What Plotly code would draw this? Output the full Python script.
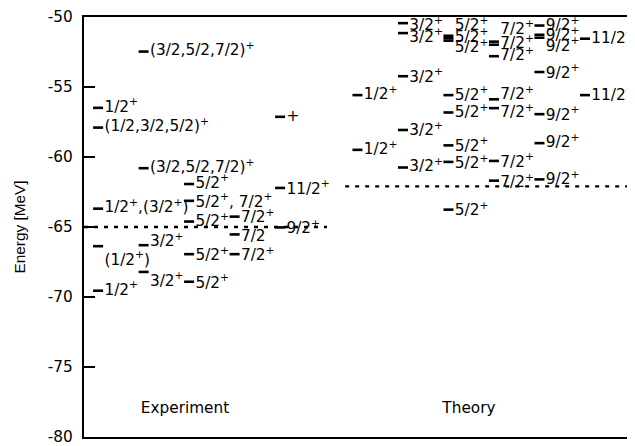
import plotly.graph_objects as go

# ---------------- data ----------------
# Experiment levels: column index, level energy (MeV), label energy (MeV), label
exp_col = [1, 0, 0, 4, 1, 2, 4, 2, 0, 2, 3, 4, 3, 0, 1, 2, 3, 1, 2, 0]
exp_E = [-52.47, -56.49, -57.90, -57.13, -60.80, -61.93, -62.21, -63.13, -63.69, -64.61,
         -64.26, -65.03, -65.53, -66.37, -66.30, -66.94, -66.94, -68.21, -68.91, -69.55]
exp_labelE = [-52.47, -56.49, -57.90, -57.13, -60.80, -61.93, -62.35, -63.27, -63.69, -64.68,
              -64.40, -65.17, -65.74, -67.43, -66.09, -67.08, -67.08, -68.91, -69.05, -69.55]
exp_label = ["(3/2,5/2,7/2)<sup>+</sup>", "1/2<sup>+</sup>", "(1/2,3/2,5/2)<sup>+</sup>", "+",
             "(3/2,5/2,7/2)<sup>+</sup>", "5/2<sup>+</sup>", "11/2<sup>+</sup>",
             "5/2<sup>+</sup>, 7/2<sup>+</sup>", "1/2<sup>+</sup>,(3/2<sup>+</sup>)",
             "5/2<sup>+</sup>", "7/2<sup>+</sup>", "9/2<sup>+</sup>", "7/2", "(1/2<sup>+</sup>)",
             "3/2<sup>+</sup>", "5/2<sup>+</sup>", "7/2<sup>+</sup>", "3/2<sup>+</sup>",
             "5/2<sup>+</sup>", "1/2<sup>+</sup>"]

# Theory levels
thy_col = [0, 0, 1, 1, 1, 1, 1, 2, 2, 2, 2, 2, 2, 2, 2, 3, 3, 3, 3, 3, 3, 3,
           4, 4, 4, 4, 4, 4, 4, 5, 5]
thy_E = [-55.58, -59.49, -50.44, -51.15, -54.23, -58.07, -60.75,
         -51.34, -51.52, -51.69, -55.58, -56.82, -59.17, -60.35, -63.76,
         -51.76, -51.98, -52.80, -55.88, -56.51, -60.28, -61.69,
         -50.61, -51.27, -51.48, -53.93, -56.94, -59.01, -61.60,
         -51.55, -55.58]
thy_labelE = [-55.58, -59.53, -50.68, -51.48, -54.35, -58.17, -60.75,
              -50.68, -51.48, -52.26, -55.65, -56.89, -59.29, -60.52, -63.88,
              -50.92, -51.95, -52.82, -55.58, -56.89, -60.42, -61.88,
              -50.68, -51.39, -52.14, -54.07, -57.06, -59.03, -61.69,
              -51.55, -55.65]
thy_label = (["1/2<sup>+</sup>"] * 2 + ["3/2<sup>+</sup>"] * 5 + ["5/2<sup>+</sup>"] * 8
             + ["7/2<sup>+</sup>"] * 7 + ["9/2<sup>+</sup>"] * 7 + ["11/2<sup>+</sup>"] * 2)

exp_ground = -65.0
thy_ground = -62.1
group_names = ["Experiment", "Theory"]
group_name_E = -78.0
yticks = [-80, -75, -70, -65, -60, -55, -50]

# ---------------- layout constants ----------------
EXP_X0 = 0.2      # x of first experimental column
THY_X0 = 5.9      # x of first theory column
DASH = 0.22       # length of level dash
LAB_DX = 0.25     # label offset from column start
XMAX = 12.11
FONT = "DejaVu Sans"
FS = 15.3


def dash_xy(cols, energies, x0):
    xs, ys = [], []
    for c, e in zip(cols, energies):
        xs += [x0 + c, x0 + c + DASH, None]
        ys += [e, e, None]
    return xs, ys


fig = go.Figure()

for cols, E, LE, labs, x0 in [(exp_col, exp_E, exp_labelE, exp_label, EXP_X0),
                              (thy_col, thy_E, thy_labelE, thy_label, THY_X0)]:
    xs, ys = dash_xy(cols, E, x0)
    fig.add_trace(go.Scatter(x=xs, y=ys, mode="lines",
                             line=dict(color="black", width=2.6), hoverinfo="skip"))
    fig.add_trace(go.Scatter(x=[x0 + c + LAB_DX for c in cols], y=LE, mode="text",
                             text=labs, textposition="middle right",
                             textfont=dict(family=FONT, size=FS, color="black"),
                             hoverinfo="skip"))

# ground state (dotted) lines
fig.add_trace(go.Scatter(x=[0, 5.34], y=[exp_ground, exp_ground], mode="lines",
                         line=dict(color="black", width=2.4, dash="4px,6px"), hoverinfo="skip"))
fig.add_trace(go.Scatter(x=[5.74, XMAX], y=[thy_ground, thy_ground], mode="lines",
                         line=dict(color="black", width=2.4, dash="4px,6px"), hoverinfo="skip"))

# group names
fig.add_trace(go.Scatter(x=[2.22, 8.46], y=[group_name_E, group_name_E], mode="text",
                         text=group_names, textposition="middle center",
                         textfont=dict(family=FONT, size=FS, color="black"),
                         hoverinfo="skip"))

# dummy trace on right axis so mirrored ticks are drawn
fig.add_trace(go.Scatter(x=[None], y=[None], yaxis="y2", showlegend=False, hoverinfo="skip"))

fig.update_layout(
    width=627, height=438,
    margin=dict(l=76, r=0, t=7, b=5),
    paper_bgcolor="white", plot_bgcolor="white",
    showlegend=False,
    xaxis=dict(range=[0, XMAX], showgrid=False, zeroline=False, showticklabels=False,
               ticks="", showline=True, linecolor="black", linewidth=2.2, mirror=True),
    yaxis=dict(range=[-80, -50], tickvals=yticks, ticktext=[str(v) for v in yticks],
               showgrid=False, zeroline=False, ticks="inside", ticklen=11, tickwidth=1.5,
               tickcolor="black", showline=True, linecolor="black", linewidth=2.2,
               ticklabelstandoff=6, ticklabeloverflow="allow",
               tickfont=dict(family=FONT, size=FS, color="black"),
               title=dict(text="Energy [MeV]", standoff=18,
                          font=dict(family="Liberation Sans", size=15.4, color="black"))),
    yaxis2=dict(range=[-80, -50], overlaying="y", side="right", tickvals=yticks,
                showticklabels=False, showgrid=False, zeroline=False, showline=False,
                ticks="inside", ticklen=6, tickwidth=1.5, tickcolor="black"),
)

fig.write_html("out.html")
